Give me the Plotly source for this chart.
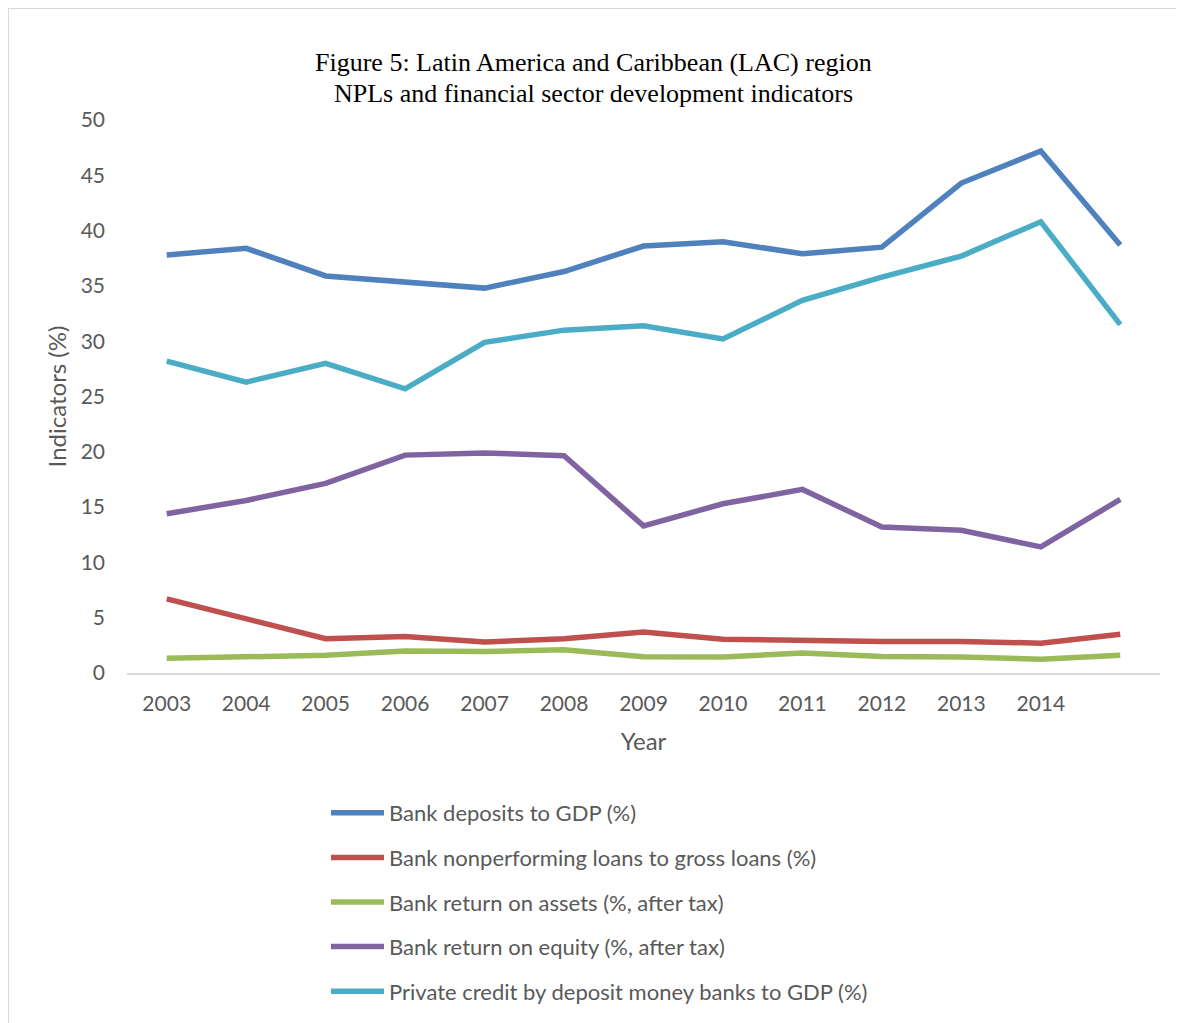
import plotly.graph_objects as go

years = [2003, 2004, 2005, 2006, 2007, 2008, 2009, 2010, 2011, 2012, 2013, 2014, 2015]
tick_labels = ["2003", "2004", "2005", "2006", "2007", "2008", "2009", "2010", "2011", "2012", "2013", "2014", ""]

deposits = [37.8, 38.4, 35.9, 35.4, 34.8, 36.3, 38.6, 39.0, 37.9, 38.5, 44.3, 47.2, 38.7]
npl = [6.7, 4.9, 3.1, 3.3, 2.8, 3.1, 3.7, 3.05, 2.9, 2.85, 2.85, 2.7, 3.5]
roa = [1.33, 1.42, 1.6, 2.0, 1.95, 2.1, 1.47, 1.45, 1.8, 1.5, 1.45, 1.24, 1.6]
roe = [14.4, 15.6, 17.15, 19.7, 19.9, 19.65, 13.3, 15.3, 16.6, 13.2, 12.9, 11.4, 15.7]
private_credit = [28.2, 26.3, 28.0, 25.7, 29.9, 31.0, 31.4, 30.2, 33.7, 35.8, 37.7, 40.8, 31.5]

series_names = [
    "Bank deposits to GDP (%)",
    "Bank nonperforming loans to gross loans (%)",
    "Bank return on assets (%, after tax)",
    "Bank return on equity (%, after tax)",
    "Private credit by deposit money banks to GDP (%)",
]
series_values = [deposits, npl, roa, roe, private_credit]
colors = ["#4F81BD", "#C0504D", "#9BBB59", "#8064A2", "#4BACC6"]

title_lines = [
    "Figure 5: Latin America and Caribbean (LAC) region",
    "NPLs and financial sector development indicators",
]

FONT = "Lato, 'Open Sans', sans-serif"
SERIF = "'Liberation Serif', 'Times New Roman', serif"
TXT = "#595959"

fig = go.Figure()
for i, (name, vals, col) in enumerate(zip(series_names, series_values, colors)):
    fig.add_trace(go.Scatter(
        x=years, y=vals, name=name, mode="lines",
        line=dict(color=col, width=5.5, shape="linear"),
        legendgroup=f"g{i}",
    ))

# figure coordinates (page has an 8px body margin)
W, H = 1176, 1015
L, R, T, B = 119, 24, 112, 350
pw = W - L - R
ph = H - T - B


def px_x(p):
    return (p - L) / pw


def px_y(p):
    return (H - B - p) / ph


fig.update_layout(
    width=W, height=H,
    margin=dict(l=L, r=R, t=T, b=B, autoexpand=False),
    paper_bgcolor="white", plot_bgcolor="white",
    font=dict(family=FONT, size=21, color=TXT),
    xaxis=dict(
        range=[2002.5, 2015.5],
        tickvals=years, ticktext=tick_labels,
        showgrid=False, zeroline=False,
        showline=True, linecolor="#D9D9D9", linewidth=2,
        ticks="", ticklabelstandoff=11,
        tickfont=dict(family=FONT, size=21, color=TXT),
        title=dict(text="Year", font=dict(family=FONT, size=24, color=TXT), standoff=19),
    ),
    yaxis=dict(
        range=[0, 50], dtick=5,
        showgrid=False, zeroline=False, showline=False,
        ticks="", ticklabelstandoff=21,
        tickfont=dict(family=FONT, size=21, color=TXT),
        title=dict(text="Indicators (%)", font=dict(family=FONT, size=24, color=TXT), standoff=7),
    ),
    legend=dict(
        x=px_x(318), xanchor="left",
        y=px_y(784), yanchor="top",
        orientation="v",
        font=dict(family=FONT, size=22, color=TXT),
        tracegroupgap=13,
        itemwidth=53,
        bgcolor="rgba(0,0,0,0)",
    ),
    showlegend=True,
)

# title lines
for k, (line, ypix) in enumerate(zip(title_lines, [54, 85])):
    fig.add_annotation(
        text=line, xref="paper", yref="paper",
        x=px_x(585), y=px_y(ypix), xanchor="center", yanchor="middle",
        showarrow=False,
        font=dict(family=SERIF, size=26, color="black"),
    )

# light border (top and left edges of the chart frame)
fig.add_shape(type="line", xref="paper", yref="paper",
              x0=px_x(0), x1=px_x(W + 5), y0=px_y(0), y1=px_y(0),
              line=dict(color="#D9D9D9", width=2))
fig.add_shape(type="line", xref="paper", yref="paper",
              x0=px_x(0), x1=px_x(0), y0=px_y(0), y1=px_y(H + 5),
              line=dict(color="#D9D9D9", width=2))

fig.write_html("out.html")
